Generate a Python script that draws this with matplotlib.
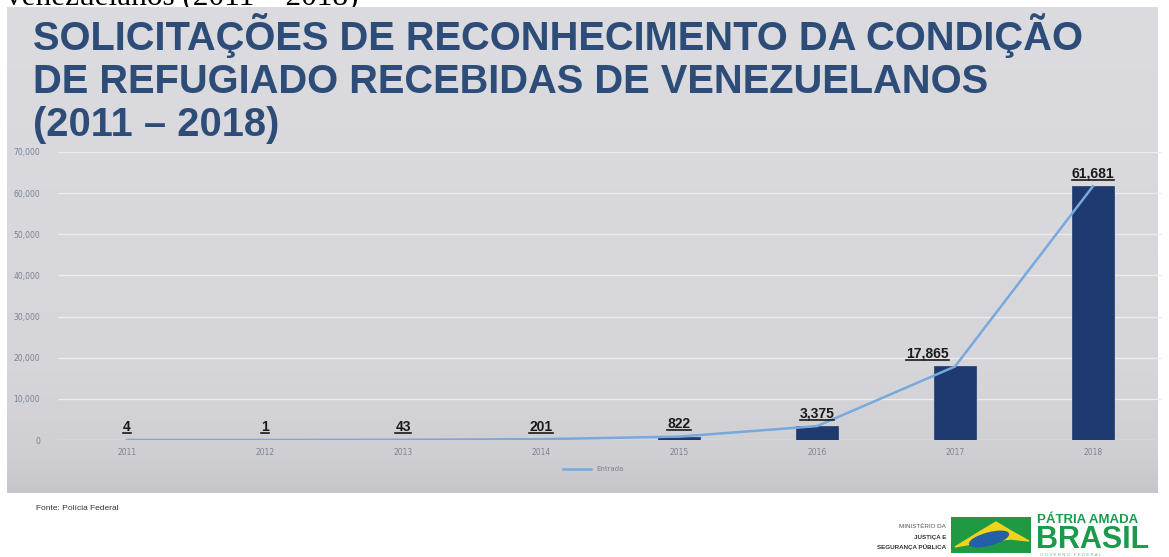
import numpy as np
import matplotlib
matplotlib.use("Agg")
import matplotlib.pyplot as plt
from matplotlib.patches import Rectangle, Polygon, Ellipse
from matplotlib.lines import Line2D
from matplotlib.ticker import FuncFormatter
from matplotlib.colors import LinearSegmentedColormap

# dados
anos = ['2011', '2012', '2013', '2014', '2015', '2016', '2017', '2018']
entradas = [4, 1, 43, 201, 822, 3375, 17865, 61681]
rotulos = ['4', '1', '43', '201', '822', '3,375', '17,865', '61,681']
yticks = [0, 10000, 20000, 30000, 40000, 50000, 60000, 70000]
titulo = ['SOLICITAÇÕES DE RECONHECIMENTO DA CONDIÇÃO',
          'DE REFUGIADO RECEBIDAS DE VENEZUELANOS',
          '(2011 – 2018)']

W, H = 1169, 557
fig = plt.figure(figsize=(W / 100, H / 100), dpi=100, facecolor='white')

def fx(px):
    return px / W

def fy(py):
    return 1 - py / H

# texto cortado no topo
fig.text(fx(6), fy(4), 'venezuelanos (2011 – 2018)', family='Liberation Serif',
         fontsize=22.5, color='black', va='baseline', ha='left', zorder=0)

# fundo cinza do slide (gradiente)
bg = fig.add_axes([fx(7), fy(493), fx(1151), 486 / H], zorder=1)
bg.set_axis_off()
grad = np.linspace(0, 1, 256).reshape(-1, 1)
cm = LinearSegmentedColormap.from_list('g', [(0, '#dcdce0'), (0.75, '#d6d6da'),
                                             (0.93, '#cfcfd3'), (1, '#c6c6ca')])
bg.imshow(grad, aspect='auto', cmap=cm, extent=[0, 1, 0, 1], origin='upper')
bg.set_xlim(0, 1)
bg.set_ylim(0, 1)

# titulo
base = [50, 93, 136]
for linha, b in zip(titulo, base):
    fig.text(fx(33), fy(b), linha, family='Liberation Sans', weight='bold',
             fontsize=28.7, color='#2d4d78', va='baseline', ha='left', zorder=3)

# grafico
ax = fig.add_axes([fx(58), fy(440), fx(1104), 288 / H], zorder=2)
ax.patch.set_alpha(0)
x = np.arange(len(anos))
ax.bar(x, entradas, width=0.31, color='#1f3a6e', edgecolor='#2a4a80', lw=0.6, zorder=2)
ax.plot(x, entradas, color='#78a8dc', lw=1.8, zorder=3, label='Entrada')
ax.set_xlim(-0.5, 7.5)
ax.set_ylim(0, 70000)
ax.set_yticks(yticks)
ax.yaxis.set_major_formatter(FuncFormatter(lambda v, p: f'{int(v):,}'))
ax.set_xticks(x)
ax.set_xticklabels(anos)
ax.tick_params(length=0, labelsize=5.5, colors='#7a8294', pad=6)
ax.tick_params(axis='y', pad=13)
ax.grid(axis='y', color='#ececef', lw=1, zorder=0)
for s in ax.spines.values():
    s.set_visible(False)

leg = ax.legend(loc='upper center', bbox_to_anchor=(0.485, -0.07), frameon=False,
                fontsize=5, handlelength=4, labelcolor='#7a8294')

desloc = [0, 0, 0, 0, 0, 0, -0.2, 0]
textos = []
for i, (v, r) in enumerate(zip(entradas, rotulos)):
    t = ax.annotate(r, (x[i] + desloc[i], v), xytext=(0, 4), textcoords='offset points',
                    ha='center', va='bottom', fontsize=10, weight='bold',
                    family='Liberation Sans', color='#1a1a1a', zorder=5)
    textos.append(t)

# fonte
fig.text(fx(36), fy(508), 'Fonte: Polícia Federal', family='Liberation Sans',
         fontsize=6, color='#333333', va='center', ha='left')

# logos
fig.text(fx(946), fy(527), 'MINISTÉRIO DA', family='Liberation Sans', fontsize=4.5,
         color='#555555', ha='right', va='center')
fig.text(fx(946), fy(537), 'JUSTIÇA E', family='Liberation Sans', fontsize=4.5,
         weight='bold', color='#333333', ha='right', va='center')
fig.text(fx(946), fy(547), 'SEGURANÇA PÚBLICA', family='Liberation Sans', fontsize=4.5,
         weight='bold', color='#333333', ha='right', va='center')

lg = fig.add_axes([fx(951), fy(553), fx(80), 36 / H])
lg.set_axis_off()
lg.set_xlim(0, 80)
lg.set_ylim(0, 36)
lg.add_patch(Rectangle((0, 0), 80, 36, color='#1f9a43'))
lg.add_patch(Polygon([(4, 6), (30, 22), (45, 31), (60, 22), (78, 12), (60, 14), (40, 12), (20, 9)],
                     closed=True, color='#f2d21b'))
lg.add_patch(Ellipse((38, 14), 40, 12, angle=15, color='#2460a8'))

fig.text(fx(1037), fy(520), 'PÁTRIA AMADA', family='Liberation Sans', weight='bold',
         fontsize=9.5, color='#1a9a4a', ha='left', va='center')
fig.text(fx(1036), fy(548), 'BRASIL', family='Liberation Sans', weight='bold',
         fontsize=22, color='#1a9a4a', ha='left', va='baseline')
fig.text(fx(1040), fy(556.5), 'G O V E R N O   F E D E R A L', family='Liberation Sans',
         fontsize=3.2, color='#6fbf85', ha='left', va='baseline')

# sublinhado dos rotulos
fig.canvas.draw()
inv = fig.transFigure.inverted()
for t in textos:
    bb = t.get_window_extent()
    (x0, y0), (x1, y1) = inv.transform([(bb.x0, bb.y0 + 1), (bb.x1, bb.y0 + 1)])
    fig.add_artist(Line2D([x0, x1], [y0, y1], color='#1a1a1a', lw=1.2, zorder=6))

fig.savefig('out.png', dpi=100, facecolor='white')
